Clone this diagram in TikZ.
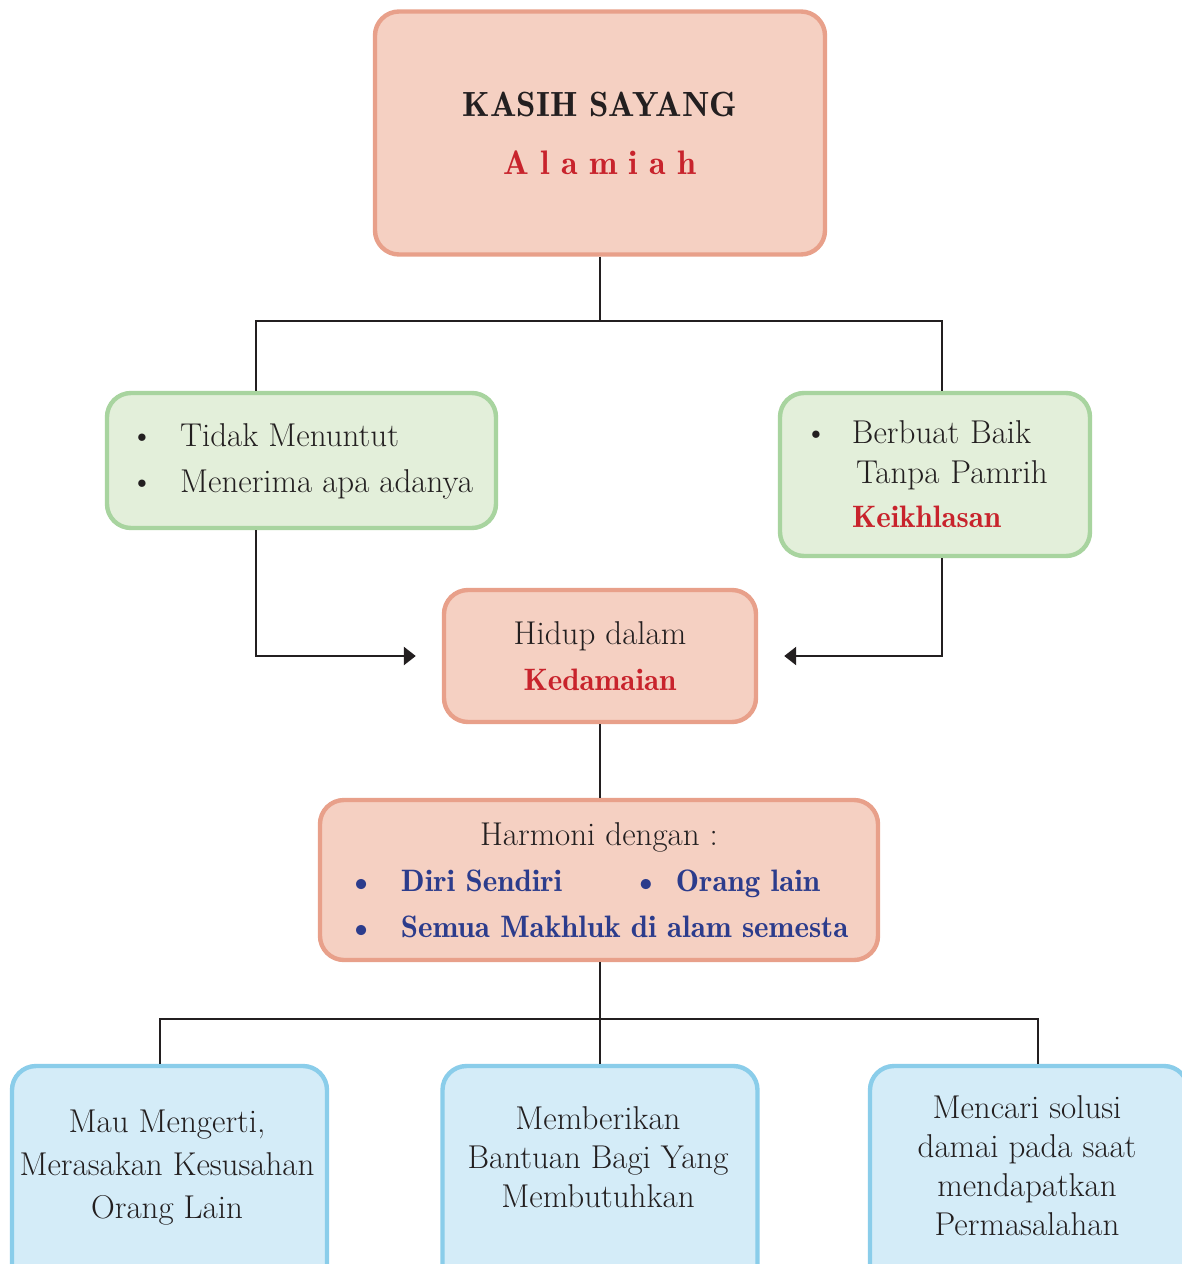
\documentclass[tikz,border=0pt]{standalone}
\usepackage{tikz}
\usepackage{xcolor}
\usetikzlibrary{positioning, arrows.meta}
\definecolor{salmonfill}{HTML}{F5D0C2}
\definecolor{salmonline}{HTML}{E8A08A}
\definecolor{greenfill}{HTML}{E3EFDA}
\definecolor{greenline}{HTML}{A8D49F}
\definecolor{bluefill}{HTML}{D4ECF8}
\definecolor{blueline}{HTML}{8ACDEA}
\definecolor{txtred}{HTML}{C8232C}
\definecolor{txtblue}{HTML}{2C3C8C}
\definecolor{ink}{HTML}{231F20}
\newcommand{\bul}[1][25pt]{\makebox[#1][l]{\textbullet}}
\newcommand{\demi}{\fontsize{15.5}{23}\fontseries{b}\selectfont}

\begin{document}
\begin{tikzpicture}[x=0.5pt,y=-0.5pt,>=Stealth,
  box/.style={rectangle,rounded corners=12pt,line width=2.2pt,align=center,
              text=ink,font=\fontsize{16.5}{23}\selectfont},
  pinkbox/.style={box,draw=salmonline,fill=salmonfill},
  greenbox/.style={box,draw=greenline,fill=greenfill},
  bluebox/.style={box,draw=blueline,fill=bluefill,minimum width=157.5pt,minimum height=117pt},
  btext/.style={align=center,text=ink,font=\fontsize{16.5}{19.5}\selectfont},
  line/.style={draw=ink,line width=1.3pt},
  arrow/.style={line,-{Triangle[length=6pt,width=9pt]},shorten >=13pt}]
  \useasboundingbox[fill=white] (0,0) rectangle (1182,1264);

  % top
  \node[pinkbox,minimum width=225pt,minimum height=121.5pt](kasih) at (600,133)
       {{\fontsize{17.5}{23}\fontseries{b}\selectfont KASIH SAYANG}\\[6pt]
        \textcolor{txtred}{\fontsize{17}{23}\fontseries{b}\selectfont A\,\,l\,\,a\,\,m\,\,i\,\,a\,\,h}};
  \node[greenbox,minimum width=194.5pt,minimum height=67.5pt](tidak) at (301.5,460.5)
       {\begin{tabular}{@{}l@{}}\bul Tidak Menuntut\\[0pt] \bul Menerima apa adanya\end{tabular}};
  \node[greenbox,minimum width=155pt,minimum height=81.5pt,text width=131pt,align=left](baik) at (935,474.5)
       {\bul[24pt]Berbuat Baik\\[-3pt] \hspace*{26pt}Tanpa Pamrih\\[-1pt]
        \hspace*{24pt}\textcolor{txtred}{\demi Keikhlasan}};
  \node[pinkbox,minimum width=156pt,minimum height=66pt](hidup) at (600,656)
       {Hidup dalam\\ \textcolor{txtred}{\demi Kedamaian}};
  \node[pinkbox,minimum width=279pt,minimum height=80pt](harmoni) at (599,880)
       {Harmoni dengan :\\
        \color{txtblue}\demi\makebox[250pt][l]{\makebox[142.5pt][l]{\bul[26pt]Diri Sendiri}\bul[21pt]Orang lain}\\
        \color{txtblue}\demi\makebox[250pt][l]{\bul[26pt]Semua Makhluk di alam semesta}};

  % bottom row
  \node[bluebox](mau) at (169.5,1183){};
  \node[bluebox](beri) at (600,1183){};
  \node[bluebox,minimum width=159pt](cari) at (1029,1183){};
  \node[btext,font=\fontsize{16.5}{21.5}\selectfont](mautxt) at (167,1168)
       {Mau Mengerti,\\ Merasakan Kesusahan\\ Orang Lain};
  \node[btext](beritxt) at (598,1157){Memberikan\\ Bantuan Bagi Yang\\ Membutuhkan};
  \node[btext](caritxt) at (1027,1166){Mencari solusi\\ damai pada saat\\ mendapatkan\\ Permasalahan};

  % connectors
  \coordinate (jt) at (600,321);
  \coordinate (jl) at (256,321);
  \coordinate (jr) at (942,321);
  \coordinate (jb) at (600,1019);
  \coordinate (jbl) at (160,1019);
  \coordinate (jbr) at (1038,1019);
  \draw[line] (kasih.south) -- (jt);
  \draw[line] (tidak.north -| jl) |- (jt) -| (baik.north -| jr);
  \draw[arrow] (tidak.south -| jl) |- (hidup.west);
  \draw[arrow] (baik.south -| jr) |- (hidup.east);
  \draw[line] (hidup.south) -- (harmoni.north -| hidup.south);
  \draw[line] (harmoni.south -| jb) -- (jb);
  \draw[line] (mau.north -| jbl) |- (jb) -| (cari.north -| jbr);
  \draw[line] (jb) -- (beri.north);
\end{tikzpicture}
\end{document}
